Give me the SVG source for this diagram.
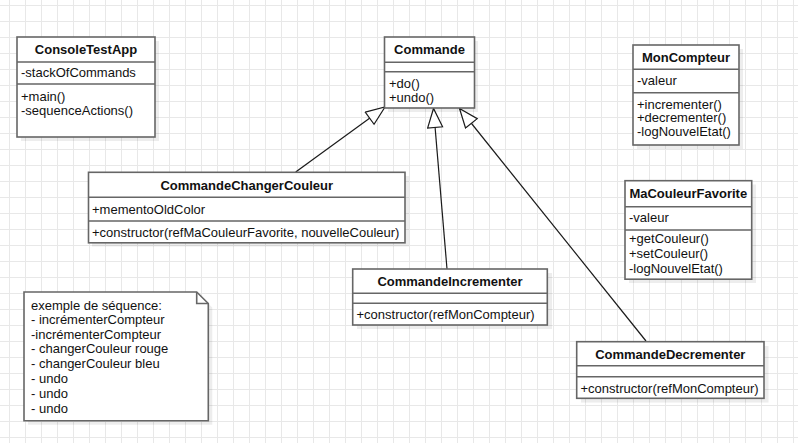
<svg xmlns="http://www.w3.org/2000/svg" width="798" height="443" viewBox="0 0 798 443">
  <defs>
    <pattern id="grid" patternUnits="userSpaceOnUse" x="9" y="5" width="16" height="16">
      <path d="M0 0.5 H16 M0.5 0 V16" fill="none" stroke="#e8e8e8" stroke-width="1"/>
    </pattern>
    <marker id="inherit" markerUnits="userSpaceOnUse" markerWidth="24" markerHeight="20" refX="20" refY="8" orient="auto">
      <path d="M1,0.5 L20,8 L1,15.5 Z" fill="#fff" stroke="#1a1a1a" stroke-width="1.2"/>
    </marker>
  </defs>
  <style>
    .box { fill: #fff; stroke: #666; stroke-width: 1.6; }
    .sep { stroke: #666; stroke-width: 1.6; fill: none; }
    .shadow { fill: #000; opacity: 0.07; }
    .title { font-family: "Liberation Sans", Arial, sans-serif; font-size: 13px; font-weight: bold; fill: #111; text-anchor: middle; }
    .mem { font-family: "Liberation Sans", Arial, sans-serif; font-size: 13px; fill: #111; }
    .edge { stroke: #1a1a1a; stroke-width: 1.2; fill: none; marker-end: url(#inherit); }
  </style>

  <rect width="798" height="443" fill="#fff"/>
  <rect width="798" height="443" fill="url(#grid)"/>

  <!-- generalisation edges -->
  <g id="edges">
    <path class="edge" d="M295.7,172 L385,107"/>
    <path class="edge" d="M447,269 L433.5,108.5"/>
    <path class="edge" d="M646,341 L459.5,108.5"/>
  </g>

  <g id="ConsoleTestApp">
    <rect class="shadow" x="21" y="41" width="138" height="100"/>
    <rect class="box" x="17" y="37" width="138" height="100"/>
    <path class="sep" d="M17,62 H155 M17,84 H155"/>
    <text class="title" x="86" y="54">ConsoleTestApp</text>
    <text class="mem" x="21" y="77">-stackOfCommands</text>
    <text class="mem" x="21" y="101">+main()</text>
    <text class="mem" x="21" y="115">-sequenceActions()</text>
  </g>

  <g id="Commande">
    <rect class="shadow" x="388" y="41" width="90" height="71"/>
    <rect class="box" x="384.5" y="37" width="90" height="71"/>
    <path class="sep" d="M384.5,62.3 H474.5 M384.5,71.7 H474.5"/>
    <text class="title" x="429.5" y="54">Commande</text>
    <text class="mem" x="389" y="88">+do()</text>
    <text class="mem" x="389" y="102">+undo()</text>
  </g>

  <g id="MonCompteur">
    <rect class="shadow" x="637" y="49" width="106" height="100"/>
    <rect class="box" x="633" y="45" width="106" height="100"/>
    <path class="sep" d="M633,69.3 H739 M633,92.7 H739"/>
    <text class="title" x="686" y="62">MonCompteur</text>
    <text class="mem" x="637" y="85">-valeur</text>
    <text class="mem" x="637" y="108.5">+incrementer()</text>
    <text class="mem" x="637" y="122">+decrementer()</text>
    <text class="mem" x="637" y="136">-logNouvelEtat()</text>
  </g>

  <g id="CommandeChangerCouleur">
    <rect class="shadow" x="92" y="176" width="317" height="70.5"/>
    <rect class="box" x="88.5" y="172.3" width="316.5" height="70.5"/>
    <path class="sep" d="M88.5,197.3 H405 M88.5,221 H405"/>
    <text class="title" x="246.7" y="190">CommandeChangerCouleur</text>
    <text class="mem" x="92" y="213.5">+mementoOldColor</text>
    <text class="mem" x="92" y="236.5">+constructor(refMaCouleurFavorite, nouvelleCouleur)</text>
  </g>

  <g id="MaCouleurFavorite">
    <rect class="shadow" x="629" y="184.5" width="127" height="98.5"/>
    <rect class="box" x="625" y="180.7" width="126.7" height="98.5"/>
    <path class="sep" d="M625,206.7 H751.7 M625,230 H751.7"/>
    <text class="title" x="688.3" y="198">MaCouleurFavorite</text>
    <text class="mem" x="629" y="222">-valeur</text>
    <text class="mem" x="629" y="242.5">+getCouleur()</text>
    <text class="mem" x="629" y="257.5">+setCouleur()</text>
    <text class="mem" x="629" y="272.5">-logNouvelEtat()</text>
  </g>

  <g id="CommandeIncrementer">
    <rect class="shadow" x="357" y="273" width="195" height="56"/>
    <rect class="box" x="352.7" y="269" width="194.6" height="56"/>
    <path class="sep" d="M352.7,293.3 H547.3 M352.7,303.3 H547.3"/>
    <text class="title" x="450" y="286">CommandeIncrementer</text>
    <text class="mem" x="356.5" y="318.5">+constructor(refMonCompteur)</text>
  </g>

  <g id="CommandeDecrementer">
    <rect class="shadow" x="581" y="346" width="187.5" height="56.6"/>
    <rect class="box" x="576.7" y="341.7" width="187.3" height="56.6"/>
    <path class="sep" d="M576.7,365.7 H764 M576.7,376.7 H764"/>
    <text class="title" x="670.3" y="358.5">CommandeDecrementer</text>
    <text class="mem" x="580.5" y="392.5">+constructor(refMonCompteur)</text>
  </g>

  <g id="NoteSequence">
    <path class="shadow" d="M28,296 H200.7 L212.3,307.5 V424.7 H28 Z"/>
    <path class="box" d="M24,292 H196.7 L208.3,303.5 V420.7 H24 Z"/>
    <path class="sep" d="M196.7,292 V303.5 H208.3"/>
    <text class="mem" x="31" y="309.5">exemple de séquence:</text>
    <text class="mem" x="31" y="324">- incrémenterCompteur</text>
    <text class="mem" x="31" y="338.5">-incrémenterCompteur</text>
    <text class="mem" x="31" y="353">- changerCouleur rouge</text>
    <text class="mem" x="31" y="368">- changerCouleur bleu</text>
    <text class="mem" x="31" y="383">- undo</text>
    <text class="mem" x="31" y="398">- undo</text>
    <text class="mem" x="31" y="413">- undo</text>
  </g>
</svg>
